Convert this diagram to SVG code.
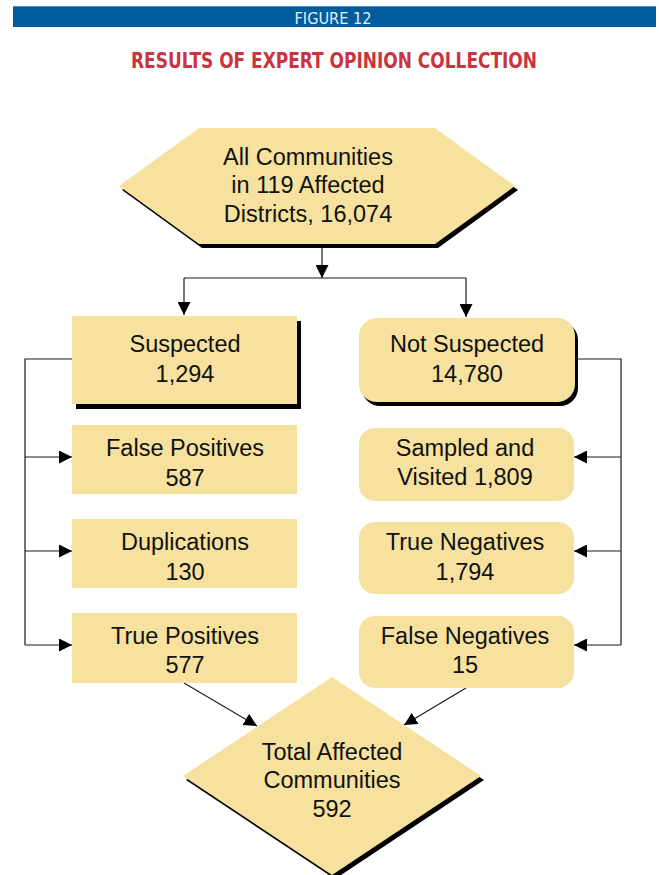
<svg xmlns="http://www.w3.org/2000/svg" width="659" height="875" viewBox="0 0 659 875">
<style>
.box{fill:#f6e19f}
.sh{fill:#000}
.t{font-family:"Liberation Sans",Arial,sans-serif;font-size:23.5px;fill:#111;text-anchor:middle}
.ln{fill:none;stroke:#1a1a1a;stroke-width:1.2}
.cond{font-family:"Liberation Sans Narrow","DejaVu Sans Condensed","Roboto Condensed",sans-serif}
</style>
<defs>
<marker id="ah" viewBox="0 0 13 13" refX="13" refY="6.5" markerWidth="13" markerHeight="13" markerUnits="userSpaceOnUse" orient="auto">
<path d="M0,0 L13,6.5 L0,13 Z" fill="#000"/>
</marker>
</defs>
<rect id="header-bar" x="13" y="6" width="643" height="21" fill="#005c9c"/>
<line x1="13" y1="6.5" x2="656" y2="6.5" stroke="#4a8ac0" stroke-width="1"/>
<text class="cond" x="333" y="24" font-size="15" fill="#e8eef6" text-anchor="middle" textLength="77" lengthAdjust="spacingAndGlyphs">FIGURE 12</text>
<text class="cond" x="334" y="68" font-size="21" font-weight="bold" fill="#c9343e" text-anchor="middle" textLength="406" lengthAdjust="spacingAndGlyphs">RESULTS OF EXPERT OPINION COLLECTION</text>

<g id="connectors">
<line class="ln" x1="322" y1="245" x2="322" y2="278" marker-end="url(#ah)"/>
<polyline class="ln" points="184,278 466,278"/>
<polyline class="ln" points="184,278 184,315" marker-end="url(#ah)"/>
<polyline class="ln" points="466,278 466,317" marker-end="url(#ah)"/>
<polyline class="ln" points="72,359 25,359 25,645"/>
<line class="ln" x1="25" y1="457" x2="72" y2="457" marker-end="url(#ah)"/>
<line class="ln" x1="25" y1="551" x2="72" y2="551" marker-end="url(#ah)"/>
<line class="ln" x1="25" y1="645" x2="72" y2="645" marker-end="url(#ah)"/>
<polyline class="ln" points="575,359 621,359 621,645"/>
<line class="ln" x1="621" y1="457" x2="574" y2="457" marker-end="url(#ah)"/>
<line class="ln" x1="621" y1="551" x2="574" y2="551" marker-end="url(#ah)"/>
<line class="ln" x1="621" y1="645" x2="574" y2="645" marker-end="url(#ah)"/>
<line class="ln" x1="184" y1="683" x2="257" y2="726" marker-end="url(#ah)"/>
<line class="ln" x1="466" y1="688" x2="404" y2="725" marker-end="url(#ah)"/>
</g>

<g id="all-communities">
<polygon class="sh" points="122,190 202,132 438,132 518,190 438,248 202,248"/>
<polygon class="box" points="119,186 199,128 435,128 515,186 435,244 199,244"/>
<text class="t" x="308" y="165">All Communities</text>
<text class="t" x="308" y="193">in 119 Affected</text>
<text class="t" x="308" y="221.5">Districts, 16,074</text>
</g>

<g id="suspected">
<rect class="sh" x="76" y="321" width="225" height="88"/>
<rect class="box" x="72" y="316" width="225" height="88"/>
<text class="t" x="185" y="352">Suspected</text>
<text class="t" x="185" y="382">1,294</text>
</g>

<g id="not-suspected">
<rect class="sh" x="362" y="322" width="216" height="84" rx="18"/>
<rect class="box" x="359" y="318" width="216" height="84" rx="18"/>
<text class="t" x="467" y="352">Not Suspected</text>
<text class="t" x="467" y="382">14,780</text>
</g>

<g id="false-positives">
<rect class="box" x="72" y="425" width="225" height="69"/>
<text class="t" x="185" y="456">False Positives</text>
<text class="t" x="185" y="486">587</text>
</g>
<g id="duplications">
<rect class="box" x="72" y="519" width="225" height="69"/>
<text class="t" x="185" y="550">Duplications</text>
<text class="t" x="185" y="580">130</text>
</g>
<g id="true-positives">
<rect class="box" x="72" y="613" width="225" height="70"/>
<text class="t" x="185" y="644">True Positives</text>
<text class="t" x="185" y="673">577</text>
</g>

<g id="sampled-visited">
<rect class="box" x="359" y="428" width="215" height="73" rx="16"/>
<text class="t" x="465" y="456">Sampled and</text>
<text class="t" x="465" y="485">Visited 1,809</text>
</g>
<g id="true-negatives">
<rect class="box" x="359" y="522" width="215" height="72" rx="16"/>
<text class="t" x="465" y="550">True Negatives</text>
<text class="t" x="465" y="580">1,794</text>
</g>
<g id="false-negatives">
<rect class="box" x="359" y="616" width="215" height="72" rx="16"/>
<text class="t" x="465" y="644">False Negatives</text>
<text class="t" x="465" y="673">15</text>
</g>

<g id="total-affected">
<polygon class="sh" points="335,681 484,780 335,879 186,780"/>
<polygon class="box" points="332,677 481,776 332,875 183,776"/>
<text class="t" x="332" y="760">Total Affected</text>
<text class="t" x="332" y="788">Communities</text>
<text class="t" x="332" y="817">592</text>
</g>
</svg>
